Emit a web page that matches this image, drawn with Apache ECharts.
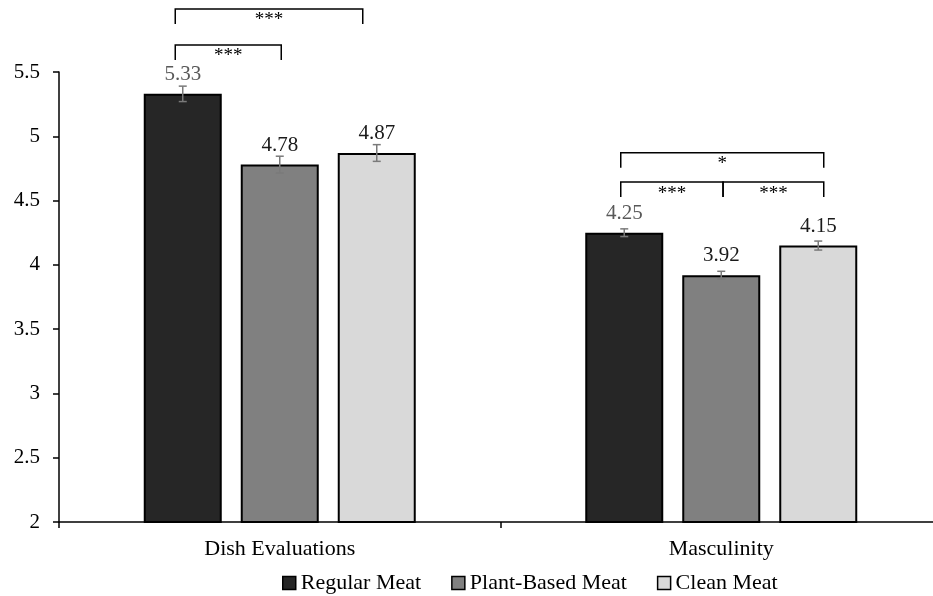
<!DOCTYPE html>
<html><head><meta charset="utf-8">
<script src="https://cdn.jsdelivr.net/npm/echarts@6/dist/echarts.min.js"></script>
<style>html,body{margin:0;padding:0;background:#fff;overflow:hidden}#c{width:942px;height:596px}</style>
</head><body><div id="c"></div>
<script>
// ---------- data ----------
const categories = ['Dish Evaluations', 'Masculinity'];
const seriesNames = ['Regular Meat', 'Plant-Based Meat', 'Clean Meat'];
const regularMeat = [5.33, 4.25];
const plantBasedMeat = [4.78, 3.92];
const cleanMeat = [4.87, 4.15];
const regularMeatErr = [0.06, 0.03];
const plantBasedMeatErr = [0.065, 0.03];
const cleanMeatErr = [0.065, 0.035];
const yMin = 2, yMax = 5.5, yInterval = 0.5;
// significance brackets: category index, from bar, to bar, bracket top value, stars
const bracketCategory = [0, 0, 1, 1, 1];
const bracketFrom = [0, 0, 0, 0, 1];
const bracketTo = [1, 2, 2, 1, 2];
const bracketTop = [5.71, 5.99, 4.872, 4.644, 4.644];
const bracketStars = ['***', '***', '*', '***', '***'];

// ---------- style ----------
const FONT = '"Liberation Serif", "Times New Roman", serif';
const colors = ['#262626', '#808080', '#d9d9d9'];
const labelColors = ['#595959', '#1a1a1a', '#1a1a1a'];
const BAR_W = 78, BAR_GAP = 19;
const SLOT = BAR_W + BAR_GAP;
const LEG = 15;
const bracketNudge = [[-7.5, 1.5], [-7.5, -14], [-3.5, 5.5], [-3.5, 1.8], [1.8, 5.5]];

const values = [regularMeat, plantBasedMeat, cleanMeat];
const errs = [regularMeatErr, plantBasedMeatErr, cleanMeatErr];

const barSeries = seriesNames.map((name, s) => ({
  name, type: 'bar', data: values[s],
  barWidth: BAR_W, barGap: (BAR_GAP / BAR_W * 100) + '%',
  itemStyle: { color: colors[s], borderColor: '#000', borderWidth: 2 },
  label: {
    show: true, position: 'top', distance: 9,
    fontFamily: FONT, fontSize: 21, color: labelColors[s],
    formatter: p => p.value.toFixed(2)
  },
  z: 2
}));

const errData = [];
values.forEach((arr, s) => arr.forEach((v, c) => errData.push([c, s, v, errs[s][c]])));

const errSeries = {
  type: 'custom', name: 'err', z: 5, silent: true,
  encode: { x: 0, y: 2 },
  data: errData,
  renderItem(params, api) {
    const c = api.value(0), s = api.value(1), v = api.value(2), e = api.value(3);
    const hi = api.coord([c, v + e]), lo = api.coord([c, v - e]);
    const x = hi[0] + (s - 1) * SLOT;
    const st = { stroke: '#7a7a7a', lineWidth: 1.5 };
    return { type: 'group', children: [
      { type: 'line', shape: { x1: x, y1: hi[1], x2: x, y2: lo[1] }, style: st },
      { type: 'line', shape: { x1: x - 4, y1: hi[1], x2: x + 4, y2: hi[1] }, style: st },
      { type: 'line', shape: { x1: x - 4, y1: lo[1], x2: x + 4, y2: lo[1] }, style: st }
    ]};
  }
};

const bracketData = bracketCategory.map((c, i) => [c, bracketFrom[i], bracketTo[i], bracketTop[i]]);
const bracketSeries = {
  type: 'custom', name: 'brackets', z: 6, silent: true, clip: false,
  encode: { x: 0, y: 3 },
  data: bracketData,
  renderItem(params, api) {
    const i = params.dataIndex;
    const p = api.coord([api.value(0), api.value(3)]);
    const x1 = p[0] + (api.value(1) - 1) * SLOT + bracketNudge[i][0];
    const x2 = p[0] + (api.value(2) - 1) * SLOT + bracketNudge[i][1];
    const y = p[1];
    return { type: 'group', children: [
      { type: 'polyline', shape: { points: [[x1, y + LEG], [x1, y], [x2, y], [x2, y + LEG]] },
        style: { stroke: '#000', lineWidth: 1.5, fill: null } },
      { type: 'text', x: (x1 + x2) / 2, y: y + 2,
        style: { text: bracketStars[i], font: '19px ' + FONT, fill: '#000', align: 'center', verticalAlign: 'top' } }
    ]};
  }
};

const chart = echarts.init(document.getElementById('c'), null, { renderer: 'canvas' });
chart.setOption({
  animation: false,
  backgroundColor: '#fff',
  textStyle: { fontFamily: FONT },
  grid: { left: 59, top: 72, bottom: 74, right: 0 },
  legend: {
    data: seriesNames, left: 277, top: 567, icon: 'rect',
    itemWidth: 13, itemHeight: 13, itemGap: 30,
    itemStyle: { borderColor: '#000', borderWidth: 1.5 },
    textStyle: { fontFamily: FONT, fontSize: 22, color: '#000' }
  },
  xAxis: {
    type: 'category', data: categories,
    axisLine: { lineStyle: { color: '#000', width: 1.5 } },
    axisTick: { show: true, length: 6, alignWithLabel: false, lineStyle: { color: '#000', width: 1.5 } },
    axisLabel: { fontFamily: FONT, fontSize: 22, color: '#000', margin: 16 }
  },
  yAxis: {
    type: 'value', min: yMin, max: yMax, interval: yInterval,
    axisLine: { show: true, lineStyle: { color: '#000', width: 1.5 } },
    axisTick: { show: true, length: 6, lineStyle: { color: '#000', width: 1.5 } },
    splitLine: { show: false },
    axisLabel: { fontFamily: FONT, fontSize: 21, color: '#000', margin: 19 }
  },
  series: [...barSeries, errSeries, bracketSeries]
});
</script>
</body></html>
